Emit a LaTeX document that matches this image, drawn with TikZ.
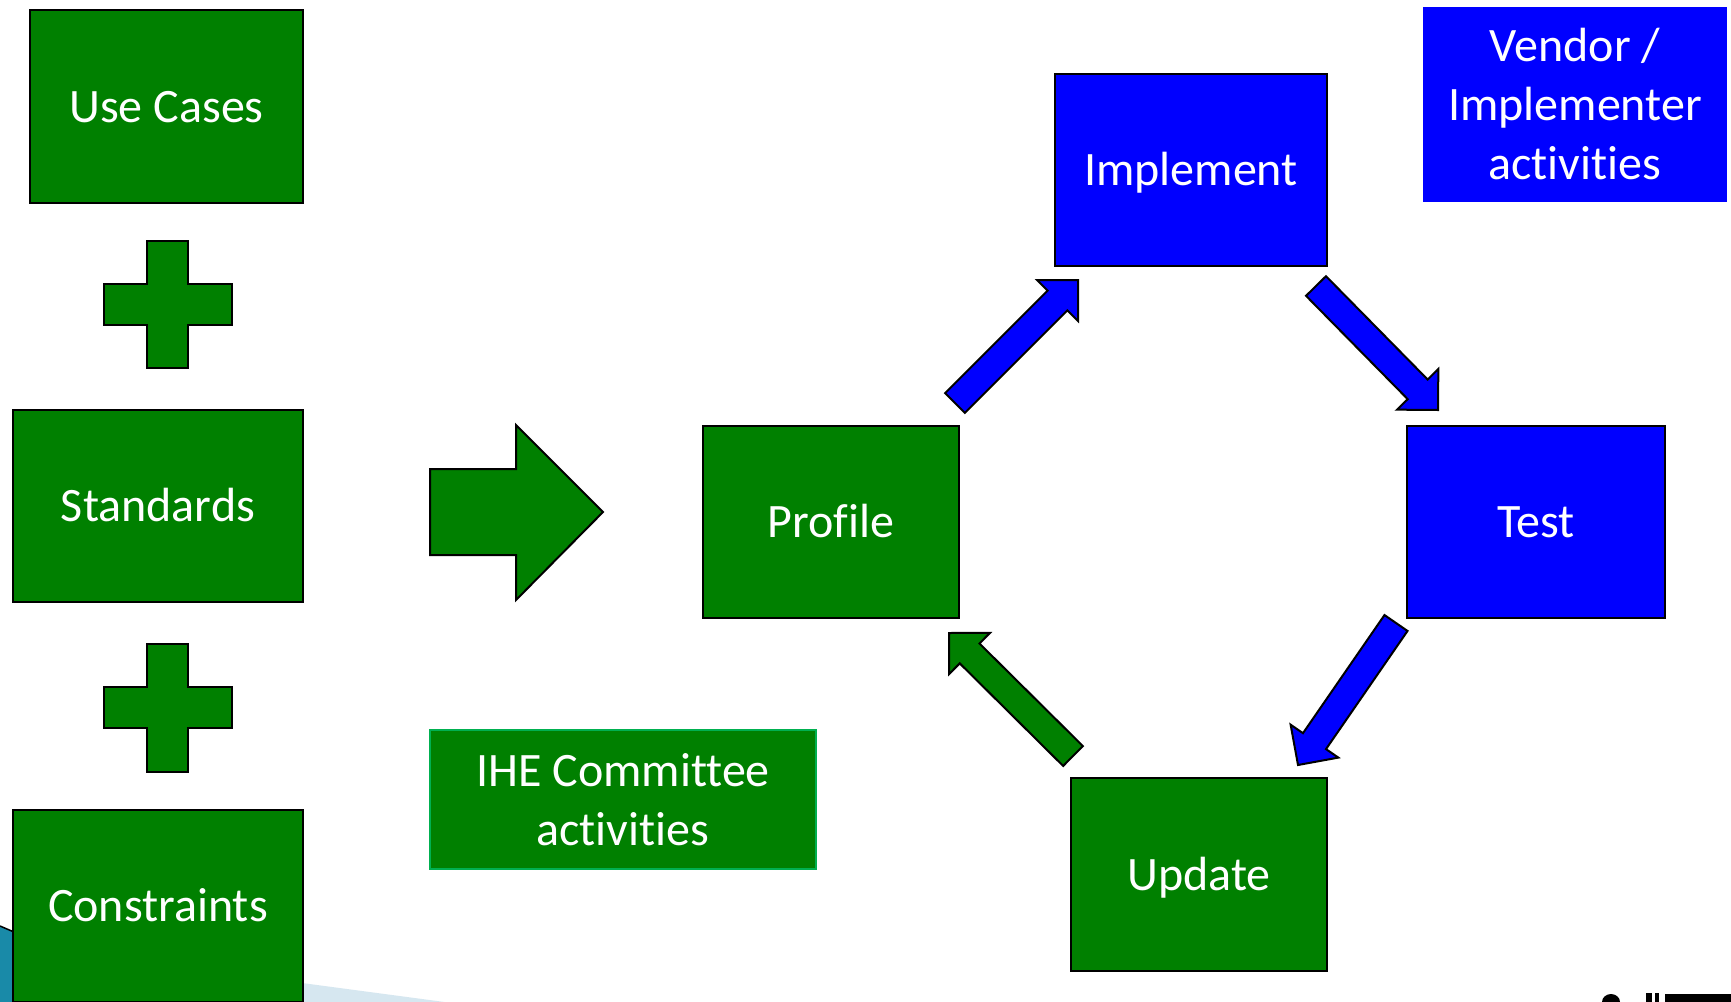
\documentclass[tikz,border=0pt]{standalone}
\usepackage{fontspec}
\setmainfont{Carlito}[Ligatures=NoCommon]
\usetikzlibrary{calc}
\definecolor{pgreen}{RGB}{0,128,0}
\definecolor{pblue}{RGB}{0,0,255}
\definecolor{lgreen}{RGB}{0,176,80}
\definecolor{tealdeco}{RGB}{25,138,168}
\definecolor{lbluedeco}{RGB}{214,231,240}
\tikzset{
  box/.style={rectangle, draw=black, line width=2.2pt, inner sep=0pt, outer sep=0pt,
    text=white, font=\fontsize{48}{59}\selectfont, align=center},
  oneline/.style={text height=31pt, text depth=0pt},
  gbox/.style={box, oneline, fill=pgreen},
  bbox/.style={box, oneline, fill=pblue},
  blockarrow/.style={draw=black, line width=2pt, line join=miter},
  plusshape/.style={fill=pgreen, draw=black, line width=2pt},
}
\newcommand{\blockarr}[3]{%
  \path[blockarrow, fill=#1] let \p1=(#2), \p2=(#3),
    \n1={atan2(\y2-\y1,\x2-\x1)}, \p3=($(#3)!29pt!(#2)$) in
    ($(\p1)+(\n1+90:14pt)$) -- ($(\p3)+(\n1+90:14pt)$) -- ($(\p3)+(\n1+90:29pt)$) --
    (\p2) -- ($(\p3)+(\n1-90:29pt)$) -- ($(\p3)+(\n1-90:14pt)$) --
    ($(\p1)+(\n1-90:14pt)$) -- cycle;}
\begin{document}
\begin{tikzpicture}[x=1pt,y=-1pt]
\useasboundingbox (0,0) rectangle (1731,1001);
\clip (0,0) rectangle (1731,1001);
\fill[white] (0,0) rectangle (1731,1001);
% background decorations
\fill[lbluedeco] (302,983) -- (452,1003) -- (302,1003) -- cycle;
\fill[tealdeco] (0,926) -- (14,932) -- (14,1003) -- (0,1003) -- cycle;
\draw[black, line width=1.5pt] (0,926) -- (14,932);
\fill[black] (1611,1002) ellipse (9 and 8);
\fill[black] (1646,993) rectangle (1652,1003);
\fill[black] (1655,993) rectangle (1659,1003);
\fill[black] (1665,994) rectangle (1731,1003);
% left column
\node[gbox, minimum width=273pt, minimum height=193pt] (usecases) at (166.5,106.5) {Use Cases};
\node[gbox, minimum width=290pt, minimum height=192pt] (standards) at (158,506) {Standards};
\node[gbox, minimum width=290pt, minimum height=192pt] (constraints) at (158,906) {Constraints};
\path[plusshape] (147,241) -- (188,241) -- (188,284) -- (232,284) -- (232,325) -- (188,325)
  -- (188,368) -- (147,368) -- (147,325) -- (104,325) -- (104,284) -- (147,284) -- cycle;
\path[plusshape] (147,644) -- (188,644) -- (188,687) -- (232,687) -- (232,728) -- (188,728)
  -- (188,772) -- (147,772) -- (147,728) -- (104,728) -- (104,687) -- (147,687) -- cycle;
% big arrow
\path[blockarrow, fill=pgreen] (430,469) -- (516,469) -- (516,425) -- (603,512)
  -- (516,600) -- (516,555) -- (430,555) -- cycle;
% cycle boxes
\node[gbox, minimum width=256pt, minimum height=192pt] (profile) at (831,522) {Profile};
\node[bbox, minimum width=272pt, minimum height=192pt] (implement) at (1191,170) {Implement};
\node[bbox, minimum width=258pt, minimum height=192pt] (test) at (1536,522) {Test};
\node[gbox, minimum width=256pt, minimum height=193pt] (update) at (1199,874.5) {Update};
% legends
\node[box, draw=lgreen, fill=pgreen, minimum width=386pt, minimum height=139pt] (ihe) at (623,799.5) {IHE Committee\\activities};
\node[box, draw=none, fill=pblue, minimum width=304pt, minimum height=195pt] (vendor) at (1575,104.5) {Vendor /\\Implementer\\activities};
% cycle arrows
\coordinate (a1s) at (955,403);  \coordinate (a1e) at (1078,280);
\coordinate (a2s) at (1316,286); \coordinate (a2e) at (1438,410);
\coordinate (a3s) at (1396,623); \coordinate (a3e) at (1298,765);
\coordinate (a4s) at (1073,756); \coordinate (a4e) at (949,633);
\blockarr{pblue}{a1s}{a1e}
\blockarr{pblue}{a2s}{a2e}
\blockarr{pblue}{a3s}{a3e}
\blockarr{pgreen}{a4s}{a4e}
\end{tikzpicture}
\end{document}
